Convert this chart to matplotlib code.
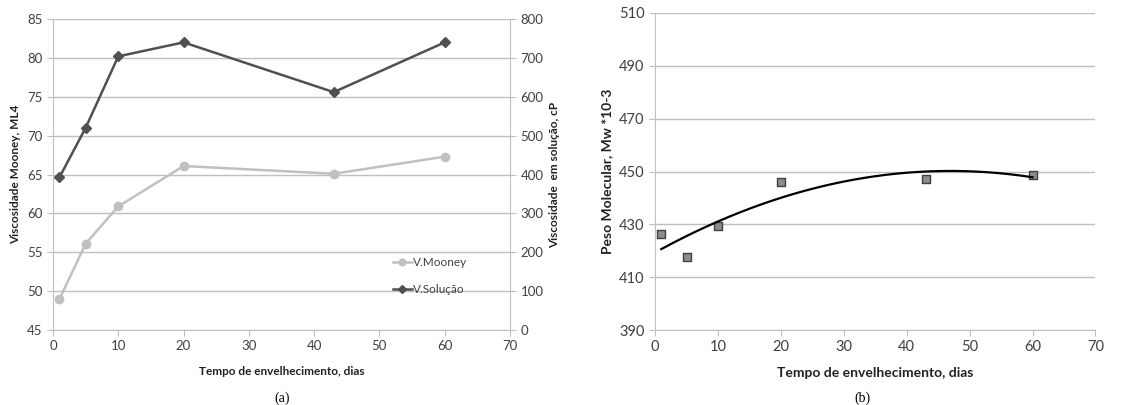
import numpy as np
import matplotlib
matplotlib.use("Agg")
import matplotlib.pyplot as plt

# Data
dias = [1, 5, 10, 20, 43, 60]
v_mooney = [49.0, 56.1, 60.9, 66.1, 65.1, 67.3]
v_solucao = [393, 520, 704, 740, 612, 740]
peso_mol = [426.3, 417.6, 429.4, 446.0, 447.2, 448.7]

plt.rcParams['font.family'] = ['Lato', 'DejaVu Sans']

fig = plt.figure(figsize=(11.44, 4.05), dpi=100)
grid_c = '#bfbfbf'
txt_c = '#404040'


def style_axis(ax):
    ax.grid(axis='y', color=grid_c, linewidth=1.0)
    ax.set_axisbelow(True)
    for s in ['top', 'right']:
        ax.spines[s].set_visible(False)
    for s in ['left', 'bottom']:
        ax.spines[s].set_color(grid_c)
    ax.tick_params(colors=grid_c, labelcolor=txt_c, length=4)


# (a) Mooney and solution viscosity
ax1 = fig.add_axes([0.0463, 0.185, 0.3995, 0.768])
style_axis(ax1)
ax1.plot(dias, v_mooney, color='#c0c0c0', marker='o', markersize=6,
         linewidth=1.8, label='V.Mooney')
ax1.set_xlim(0, 70)
ax1.set_ylim(45, 85)
ax1.set_yticks(range(45, 86, 5))
ax1.set_xticks(range(0, 71, 10))
ax1.tick_params(labelsize=9.5)
ax1.set_ylabel('Viscosidade Mooney, ML4', fontsize=8.5, fontweight='bold', color='#222222')
ax1.set_xlabel('Tempo de envelhecimento, dias', fontsize=8.5, fontweight='bold',
               color='#222222', labelpad=10)

ax2 = ax1.twinx()
ax2.plot(dias, v_solucao, color='#505050', marker='D', markersize=5,
         linewidth=1.8, label='V.Solução')
ax2.set_ylim(0, 800)
ax2.set_yticks(range(0, 801, 100))
for s in ['top', 'left', 'bottom']:
    ax2.spines[s].set_visible(False)
ax2.spines['right'].set_color(grid_c)
ax2.tick_params(colors=grid_c, labelcolor=txt_c, length=4, labelsize=9.5)
ax2.set_ylabel('Viscosidade  em solução, cP', fontsize=8.5, fontweight='bold', color='#222222')

h1, l1 = ax1.get_legend_handles_labels()
h2, l2 = ax2.get_legend_handles_labels()
ax2.legend(h1 + h2, l1 + l2, loc='upper left', bbox_to_anchor=(0.72, 0.27),
           frameon=False, fontsize=8.5, labelspacing=1.4, handlelength=1.6,
           handletextpad=0.1, markerscale=0.8, labelcolor=txt_c)

fig.text(0.2465, 0.008, '(a)', ha='center', fontsize=10, family='Liberation Serif')

# (b) Molecular weight with polynomial trend
ax3 = fig.add_axes([0.5726, 0.185, 0.385, 0.783])
style_axis(ax3)
ax3.scatter(dias, peso_mol, marker='s', s=26, color='#8c8c8c',
            edgecolor='#404040', linewidth=1.0, zorder=3)
coef = np.polyfit(dias, peso_mol, 2)
xx = np.linspace(min(dias), max(dias), 200)
ax3.plot(xx, np.polyval(coef, xx), color='black', linewidth=1.6, zorder=4)
ax3.set_xlim(0, 70)
ax3.set_ylim(390, 510)
ax3.set_yticks(range(390, 511, 20))
ax3.set_xticks(range(0, 71, 10))
ax3.tick_params(labelsize=10.5)
ax3.set_ylabel('Peso Molecular, Mw *10-3', fontsize=10, fontweight='bold', color='#222222')
ax3.set_xlabel('Tempo de envelhecimento, dias', fontsize=10, fontweight='bold',
               color='#222222', labelpad=9)

fig.text(0.7535, 0.008, '(b)', ha='center', fontsize=10, family='Liberation Serif')

fig.savefig('out.png', dpi=100)
